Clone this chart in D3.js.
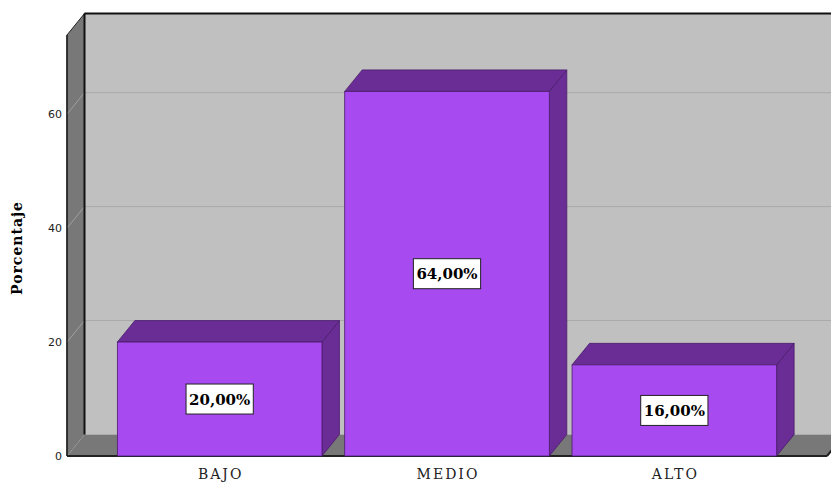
<!DOCTYPE html>
<html><head><meta charset="utf-8">
<script src="https://cdn.jsdelivr.net/npm/d3@7"></script>
<style>body{margin:0;background:#fff}svg{display:block}</style>
</head><body>
<svg id="c" width="831" height="484"></svg>
<script>
const categories = ["BAJO", "MEDIO", "ALTO"];
const values = [20, 64, 16];
const valueLabels = ["20,00%", "64,00%", "16,00%"];
const yTicks = [0, 20, 40, 60];

(function () {
const svg = d3.select("#c");
const dx = 17.5, dy = -21.5;
const x0 = 67, x1 = 827;
const y = d3.scaleLinear().domain([0, 73.9]).range([456, 35]);
const x = d3.scaleBand().domain(categories).range([106, 788]).paddingInner(0.1).paddingOuter(0.05);
const base = y(0), yTop = y(73.9);
const pts = a => a.map(p => p.join(",")).join(" ");
const serif = "DejaVu Serif, serif";

// back wall
svg.append("rect").attr("x", x0 + dx).attr("y", yTop + dy).attr("width", 831 - x0 - dx + 20).attr("height", base - yTop)
  .attr("fill", "#c0c0c0");
yTicks.filter(t => t > 0).forEach(t => {
  svg.append("line").attr("x1", x0 + dx).attr("x2", 831).attr("y1", y(t) + dy).attr("y2", y(t) + dy)
    .attr("stroke", "#a9a9a9").attr("stroke-width", 1);
});
// left wall
svg.append("polygon").attr("points", pts([[x0, yTop], [x0 + dx, yTop + dy], [x0 + dx, base + dy], [x0, base]]))
  .attr("fill", "#787878").attr("stroke", "#222").attr("stroke-width", 1);
yTicks.filter(t => t > 0).forEach(t => {
  svg.append("line").attr("x1", x0).attr("y1", y(t)).attr("x2", x0 + dx).attr("y2", y(t) + dy)
    .attr("stroke", "#a0a0a0").attr("stroke-width", 1);
});
// floor
svg.append("polygon").attr("points", pts([[x0, base], [x0 + dx, base + dy], [x1 + dx, base + dy], [x1, base]]))
  .attr("fill", "#787878");
svg.append("line").attr("x1", x0 + dx).attr("y1", base + dy).attr("x2", x0).attr("y2", base)
  .attr("stroke", "#a0a0a0").attr("stroke-width", 1);
// edges
svg.append("line").attr("x1", x0 + dx).attr("x2", x0 + dx).attr("y1", yTop + dy).attr("y2", base + dy)
  .attr("stroke", "#111").attr("stroke-width", 2);
svg.append("line").attr("x1", x0 + dx).attr("x2", 831).attr("y1", yTop + dy).attr("y2", yTop + dy)
  .attr("stroke", "#111").attr("stroke-width", 2);
svg.append("line").attr("x1", x0).attr("x2", x1).attr("y1", base).attr("y2", base)
  .attr("stroke", "#222").attr("stroke-width", 2);
svg.append("line").attr("x1", x1).attr("y1", base).attr("x2", x1 + dx).attr("y2", base + dy)
  .attr("stroke", "#222").attr("stroke-width", 2);
svg.append("line").attr("x1", x0).attr("x2", x0).attr("y1", yTop).attr("y2", base)
  .attr("stroke", "#222").attr("stroke-width", 1.5);

// bars
const front = "#a74af0", dark = "#6a2c95", edge = "#4a1d6b";
categories.forEach((c, i) => {
  const bx = x(c), bw = x.bandwidth(), by = y(values[i]);
  const g = svg.append("g");
  g.append("polygon").attr("points", pts([[bx + bw, by], [bx + bw + dx, by + dy], [bx + bw + dx, base + dy], [bx + bw, base]]))
    .attr("fill", dark).attr("stroke", edge).attr("stroke-width", 0.8);
  g.append("polygon").attr("points", pts([[bx, by], [bx + dx, by + dy], [bx + bw + dx, by + dy], [bx + bw, by]]))
    .attr("fill", dark).attr("stroke", edge).attr("stroke-width", 0.8);
  g.append("rect").attr("x", bx).attr("y", by).attr("width", bw).attr("height", base - by)
    .attr("fill", front).attr("stroke", edge).attr("stroke-width", 0.8);
  const cx = bx + bw / 2, cy = (by + base) / 2;
  const t = g.append("text").attr("x", cx).attr("y", cy + 5.5).attr("text-anchor", "middle")
    .attr("font-family", serif).attr("font-weight", "bold").attr("font-size", 15)
    .attr("fill", "#000").text(valueLabels[i]);
  const w = t.node().getComputedTextLength();
  g.insert("rect", "text").attr("x", cx - w / 2 - 3).attr("y", cy - 15).attr("width", w + 6).attr("height", 30)
    .attr("fill", "#fff").attr("stroke", "#222").attr("stroke-width", 1);
  svg.append("text").attr("x", cx + 1).attr("y", 479).attr("text-anchor", "middle")
    .attr("font-family", serif).attr("font-size", 14).attr("letter-spacing", 2)
    .attr("fill", "#222").text(c);
});

// y tick labels
yTicks.forEach(t => {
  svg.append("text").attr("x", 62).attr("y", y(t) + 4).attr("text-anchor", "end")
    .attr("font-family", "DejaVu Sans, sans-serif").attr("font-size", 11).attr("fill", "#222").text(t);
});
// y title
svg.append("text").attr("transform", "translate(22,248) rotate(-90)").attr("text-anchor", "middle")
  .attr("font-family", serif).attr("font-weight", "bold").attr("font-size", 14)
  .attr("letter-spacing", 1).attr("fill", "#000").text("Porcentaje");
})();
</script>
</body></html>
